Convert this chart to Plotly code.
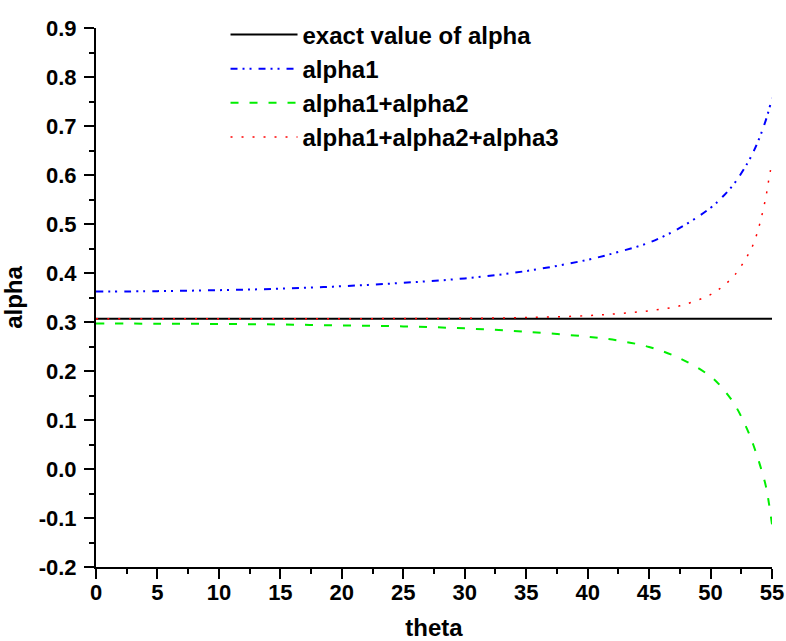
import plotly.graph_objects as go

theta = [0, 5, 10, 15, 20, 25, 30, 35, 40, 42.5, 45, 47.5, 50, 51, 52, 53, 53.5, 54, 54.5, 54.75, 55]
exact_alpha = [0.3068] * len(theta)
alpha1 = [0.362, 0.363, 0.365, 0.368, 0.373, 0.380, 0.389, 0.404, 0.427, 0.443, 0.462, 0.492,
          0.533, 0.556, 0.585, 0.624, 0.648, 0.677, 0.712, 0.733, 0.757]
alpha12 = [0.297, 0.2965, 0.296, 0.295, 0.293, 0.291, 0.287, 0.280, 0.270, 0.262, 0.249, 0.226,
           0.189, 0.164, 0.130, 0.080, 0.048, 0.010, -0.035, -0.070, -0.113]
alpha123 = [0.3065, 0.3065, 0.3066, 0.3067, 0.3068, 0.307, 0.3075, 0.309, 0.313, 0.317, 0.323, 0.333,
            0.356, 0.373, 0.397, 0.435, 0.460, 0.500, 0.555, 0.592, 0.626]

names = ["exact value of alpha", "alpha1", "alpha1+alpha2", "alpha1+alpha2+alpha3"]

x_tick_vals = [0, 5, 10, 15, 20, 25, 30, 35, 40, 45, 50, 55]
x_tick_text = ["0", "5", "10", "15", "20", "25", "30", "35", "40", "45", "50", "55"]
y_tick_vals = [-0.2, -0.1, 0.0, 0.1, 0.2, 0.3, 0.4, 0.5, 0.6, 0.7, 0.8, 0.9]
y_tick_text = ["-0.2", "-0.1", "0.0", "0.1", "0.2", "0.3", "0.4", "0.5", "0.6", "0.7", "0.8", "0.9"]

FONT = "Liberation Sans"

fig = go.Figure()
fig.add_trace(go.Scatter(x=theta, y=exact_alpha, mode="lines", name=names[0],
                         line=dict(color="black", width=2)))
fig.add_trace(go.Scatter(x=theta, y=alpha1, mode="lines", name=names[1], line_shape="spline",
                         line=dict(color="#0000ff", width=2, dash="7px,5px,2px,5px,2px,7px")))
fig.add_trace(go.Scatter(x=theta, y=alpha12, mode="lines", name=names[2], line_shape="spline",
                         line=dict(color="#00ee00", width=2, dash="8px,11px")))
fig.add_trace(go.Scatter(x=theta, y=alpha123, mode="lines", name=names[3], line_shape="spline",
                         line=dict(color="#ff0000", width=1.5, dash="2px,9px")))

axis_common = dict(
    showline=True, linecolor="black", linewidth=2, mirror=False,
    ticks="outside", ticklen=10, tickwidth=2, tickcolor="black",
    showgrid=False, zeroline=False, automargin=False,
    tickfont=dict(family=FONT, size=22, color="black", weight="bold"),
)

fig.update_xaxes(range=[0, 55], tickvals=x_tick_vals, ticktext=x_tick_text, ticklabelstandoff=-5,
                 minor=dict(ticks="outside", ticklen=5, tickwidth=2, tickcolor="black", dtick=2.5, tick0=0, showgrid=False),
                 title=dict(text="theta", font=dict(family=FONT, size=24, color="black", weight="bold"), standoff=16),
                 **axis_common)
fig.update_yaxes(range=[-0.2, 0.9], tickvals=y_tick_vals, ticktext=y_tick_text, ticklabelstandoff=3,
                 minor=dict(ticks="outside", ticklen=5, tickwidth=2, tickcolor="black", dtick=0.05, tick0=0, showgrid=False),
                 title=dict(text="alpha", font=dict(family=FONT, size=24, color="black", weight="bold"), standoff=11),
                 **axis_common)

fig.update_layout(
    width=786, height=641,
    margin=dict(l=96, r=14, t=17, b=74),
    plot_bgcolor="white", paper_bgcolor="white",
    legend=dict(x=0.1916, y=1.029, xanchor="left", yanchor="top", itemwidth=67,
                font=dict(family=FONT, size=24, color="black", weight="bold"),
                bgcolor="rgba(0,0,0,0)", tracegroupgap=0),
)

fig.write_html("out.html", config={"displayModeBar": False},
               post_script="document.body.style.margin='0';")
